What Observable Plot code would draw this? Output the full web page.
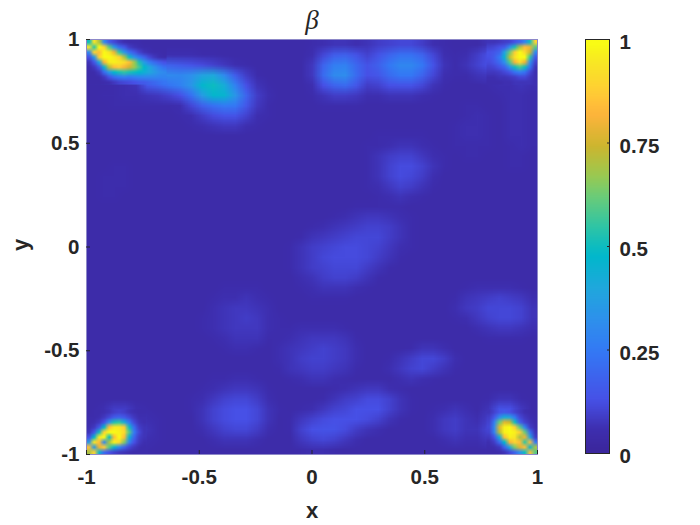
<!DOCTYPE html>
<html>
<head>
<meta charset="utf-8">
<script src="https://cdn.jsdelivr.net/npm/d3@7"></script>
<script src="https://cdn.jsdelivr.net/npm/@observablehq/plot@0.6"></script>
<style>
html,body{margin:0;padding:0;background:#fff}
#wrap{position:relative;width:700px;height:525px;overflow:hidden}
#wrap>div{position:absolute;top:0}
svg{display:block;background:transparent}
</style>
</head>
<body>
<div id="wrap"><div id="main" style="left:0"></div><div id="bar" style="left:575px"></div></div>
<script>
const xTicks = [-1, -0.5, 0, 0.5, 1];
const yTicks = [-1, -0.5, 0, 0.5, 1];
const barTicks = [0, 0.25, 0.5, 0.75, 1];
const titleText = "β";
const xLabel = "x";
const yLabel = "y";
const colorStops = [0, 0.05, 0.12, 0.24, 0.32, 0.4, 0.48, 0.55, 0.63, 0.68, 0.75, 0.83, 0.885, 0.965, 1];
const colorValues = ["#3b279e","#3e2fb0","#4750e6","#3478f5","#2e90ec","#1fa8dc","#00b8cb","#2fc5a5","#6fcc75","#9ec94e","#cdb52f","#ffb43c","#ffce35","#f7ea22","#f9fb15"];
const barLevels = [1,.975,.95,.925,.9,.875,.85,.825,.8,.775,.75,.725,.7,.675,.65,.625,.6,.575,.55,.525,.5,.475,.45,.425,.4,.375,.35,.325,.3,.275,.25,.225,.2,.175,.15,.125,.1,.075,.05,.025,0];
// beta in hundredths, 41 rows (top to bottom, y = 1 to -1) of 41 columns (x = -1 to 1)
const betaRows = [
[90,75,45,25,15,10,3,3,3,3, 3,3,3,3,3,3,3,3,3,3, 4,5,6,6,5,6,8,9,10,10, 8,5,4,3,3,3,6,10,22,55, 85],
[55,95,100,90,65,35,5,5,5,5, 4,4,3,3,3,3,3,3,3,3, 5,10,16,17,13,9,13,18,22,22, 18,10,5,4,5,8,12,20,55,100, 75],
[30,75,98,92,80,55,17,17,15,13, 11,9,7,5,4,3,3,3,3,3, 7,18,26,27,19,13,17,24,29,29, 24,13,6,4,6,9,12,20,50,75, 25],
[12,30,50,60,55,45,30,30,29,32, 38,40,30,16,8,4,3,3,3,3, 7,20,30,31,20,12,14,20,24,24, 18,10,5,4,4,6,7,10,16,20, 8],
[3,3,4,5,6,14,18,23,27,34, 47,50,42,27,12,6,4,3,3,3, 5,12,18,20,14,8,9,12,13,13, 10,6,4,3,3,3,4,5,5,6, 5],
[3,4,4,5,5,6,7,9,12,22, 36,47,46,34,18,8,5,3,3,3, 4,6,8,8,7,5,5,6,6,6, 5,4,3,3,3,3,3,4,5,5, 4],
[3,3,4,4,4,4,4,4,5,10, 17,22,25,24,14,7,4,3,3,3, 3,4,4,4,4,3,3,3,3,3, 3,3,3,3,4,4,3,3,5,5, 4],
[3,3,3,3,3,3,3,3,4,5, 8,11,13,13,9,5,4,3,3,3, 3,3,3,3,3,3,3,3,3,3, 3,3,3,3,4,5,4,3,5,5, 4],
[3,3,3,3,3,3,3,3,3,4, 5,6,7,7,5,4,3,3,3,3, 3,3,3,3,3,3,3,3,3,3, 3,3,3,4,5,5,4,3,5,5, 4],
[3,3,3,3,3,3,3,3,3,3, 3,3,3,3,3,3,3,3,3,3, 3,3,3,3,3,3,4,4,4,4, 4,3,3,4,5,5,4,3,5,5, 4],
[3,3,3,3,3,3,3,3,3,3, 3,3,3,3,3,3,3,3,3,3, 3,3,3,3,3,4,4,5,6,6, 5,4,3,4,4,4,4,3,4,5, 4],
[3,3,3,3,3,3,3,3,3,3, 3,3,3,3,3,3,3,3,3,3, 3,3,3,3,3,4,6,8,9,9, 7,5,4,3,4,4,3,3,4,4, 3],
[3,3,4,4,3,3,3,3,3,3, 3,3,3,3,3,3,3,3,3,3, 3,3,3,3,3,4,6,9,11,11, 9,6,4,3,3,3,3,3,4,4, 3],
[3,4,4,4,3,3,3,3,3,3, 3,3,3,3,3,3,3,3,3,3, 3,3,3,3,3,4,6,9,11,10, 8,5,3,3,3,3,3,3,3,3, 3],
[3,4,4,4,3,3,3,3,3,3, 3,3,3,3,3,3,3,3,3,3, 3,3,3,3,3,4,5,7,9,8, 6,4,3,3,3,3,3,3,3,3, 3],
[3,4,4,3,3,3,3,3,3,3, 3,3,3,3,3,3,3,3,3,3, 3,3,3,3,3,3,4,5,6,5, 4,3,3,3,3,3,3,3,3,3, 3],
[3,3,3,3,3,3,3,3,3,3, 3,3,3,3,3,3,3,3,3,3, 3,3,3,3,4,4,4,4,4,3, 3,3,3,3,3,3,3,3,3,3, 3],
[3,3,3,3,3,3,3,3,3,3, 3,3,3,3,3,3,3,3,3,3, 3,3,4,5,6,7,7,6,5,4, 3,3,3,3,3,3,3,3,3,3, 3],
[3,3,3,3,3,3,3,3,3,3, 3,3,3,3,3,3,3,3,3,3, 4,5,6,7,8,9,9,8,6,4, 3,3,3,3,3,3,3,3,3,3, 3],
[3,3,3,3,3,3,3,3,3,3, 3,3,3,3,3,3,3,3,3,4, 6,7,8,9,10,10,10,8,6,4, 3,3,3,3,3,3,3,3,3,3, 3],
[3,3,3,3,3,3,3,3,3,3, 3,3,3,3,3,3,3,3,4,6, 8,9,10,11,11,10,9,7,5,4, 3,3,3,3,3,3,3,3,3,3, 3],
[3,3,3,3,3,3,3,3,3,3, 3,3,3,3,3,3,3,3,4,6, 8,10,11,11,11,10,8,6,4,3, 3,3,3,3,3,3,3,3,3,3, 3],
[3,3,3,3,3,3,3,3,3,3, 3,3,3,3,3,3,3,3,4,6, 8,9,10,10,10,8,6,4,3,3, 3,3,3,3,3,3,3,3,3,3, 3],
[3,3,3,3,3,3,3,3,3,3, 3,3,3,3,3,3,3,3,3,5, 6,8,9,9,8,6,4,3,3,3, 3,3,3,3,3,3,3,3,3,3, 3],
[3,3,3,3,3,3,3,3,3,3, 3,3,4,4,4,4,3,3,3,4, 5,6,6,6,5,4,3,3,3,3, 3,3,3,3,4,5,5,5,5,4, 3],
[3,3,3,3,3,3,3,3,3,3, 3,4,5,5,6,5,4,3,3,3, 4,4,4,4,3,3,3,3,3,3, 3,3,3,4,6,7,8,9,8,7, 5],
[3,3,3,3,3,3,3,3,3,3, 3,5,6,7,7,6,5,3,3,3, 3,3,3,3,3,3,3,3,3,3, 3,3,3,5,7,8,10,10,10,9, 6],
[3,3,3,3,3,3,3,3,3,3, 4,5,6,7,8,7,5,4,3,3, 3,3,3,3,3,3,3,3,3,3, 3,3,3,4,5,7,9,10,10,9, 6],
[3,3,3,3,3,3,3,3,3,3, 4,5,6,7,7,7,5,4,4,5, 5,5,5,4,3,3,3,3,3,3, 3,3,3,3,3,5,6,7,7,6, 5],
[3,3,3,3,3,3,3,3,3,3, 3,4,5,6,6,6,4,4,5,6, 7,7,7,6,4,3,3,3,3,3, 3,3,3,3,3,3,4,4,4,4, 3],
[3,3,3,3,3,3,3,3,3,3, 3,3,4,5,5,4,3,5,6,7, 8,9,8,7,5,3,3,3,3,4, 6,6,5,3,3,3,3,3,3,3, 3],
[3,3,3,3,3,3,3,3,3,3, 3,3,3,3,3,3,3,5,6,8, 9,9,8,7,5,3,3,4,6,8, 10,10,8,5,3,3,3,3,3,3, 3],
[3,3,3,3,3,3,3,3,3,3, 3,3,3,3,3,3,3,4,6,7, 8,8,7,6,4,3,3,5,7,9, 10,8,6,4,3,3,3,3,3,3, 3],
[3,3,3,3,3,3,3,3,3,3, 3,4,4,5,5,4,3,3,4,5, 6,6,5,4,3,3,3,3,5,6, 5,4,3,3,3,3,3,3,3,3, 3],
[3,3,3,3,3,3,3,3,3,3, 4,5,6,7,7,6,4,3,3,3, 3,3,4,5,6,7,7,5,4,3, 3,3,3,3,3,3,3,3,3,3, 3],
[3,3,3,3,3,3,3,3,3,4, 5,7,9,10,10,8,5,3,3,3, 3,4,6,8,9,11,11,9,6,4, 3,3,3,3,3,3,4,6,6,4, 3],
[3,5,8,8,5,4,3,3,3,4, 6,9,11,12,12,10,6,4,3,4, 5,7,9,10,12,12,12,9,6,4, 3,4,5,6,5,3,6,13,12,7, 3],
[5,10,30,35,18,5,4,3,3,3, 6,9,11,12,12,10,6,3,4,7, 9,11,12,12,12,11,9,6,4,3, 3,5,7,8,6,5,8,38,38,15, 6],
[10,45,100,85,25,6,4,3,3,3, 5,7,9,10,10,8,5,3,4,9, 12,13,13,11,8,6,5,3,3,3, 3,5,7,8,6,6,10,85,100,55, 12],
[50,100,85,35,15,5,4,3,3,3, 3,5,6,6,6,5,3,3,3,7, 9,10,9,7,5,3,3,3,3,3, 3,3,5,6,5,5,7,35,95,95, 50],
[90,45,20,12,8,4,3,3,3,3, 3,3,3,3,3,3,3,3,3,4, 5,5,4,3,3,3,3,3,3,3, 3,3,3,3,3,3,4,10,25,75, 95]
];

// finer readings of the four corners, same unit, rows top to bottom
const cornerTopLeft = [
[50,95,70,30,15,10,7,5,4,4,4,3,3,3,3,3],
[95,55,100,90,60,35,20,14,8,6,5,4,4,3,3,3],
[30,90,85,100,95,80,55,35,22,15,9,6,5,4,4,3],
[12,35,88,100,100,97,90,70,50,33,24,17,10,7,5,4],
[6,14,40,82,97,98,96,93,85,68,52,36,26,20,16,12],
[4,7,14,45,72,85,88,82,76,68,58,48,40,33,27,22],
[3,4,7,20,35,48,52,55,52,50,48,44,40,36,32,30],
[3,3,4,7,13,20,24,26,24,26,28,29,29,29,28,28],
[3,3,3,4,5,7,9,10,11,12,14,15,17,19,21,23]
];
const cornerTopRight = [
[6,6,7,8,9,12,18,28,50,90],
[9,10,12,15,30,52,70,85,80,60],
[12,14,18,38,62,88,100,92,75,30],
[12,16,24,45,72,94,100,100,55,15],
[11,14,20,32,58,82,92,80,32,9],
[9,10,13,18,32,50,58,50,22,6],
[7,7,8,10,13,22,26,22,10,5],
[5,5,6,6,7,8,10,10,7,5],
[4,4,4,5,5,6,6,6,6,5]
];
const cornerBottomLeft = [
[3,4,4,5,6,8,9,8,6,5,4,4],
[4,4,5,7,10,15,17,14,10,7,5,5],
[4,5,7,12,32,52,55,42,24,10,6,5],
[5,7,14,48,85,96,96,88,50,20,8,6],
[6,14,50,90,100,100,98,92,60,25,10,6],
[12,48,95,100,50,85,100,85,45,18,8,6],
[35,95,85,30,70,98,92,65,28,12,7,5],
[85,35,80,88,60,45,30,18,10,7,5,4],
[70,90,45,20,12,9,7,6,5,4,4,4]
];
const cornerBottomRight = [
[6,9,13,14,12,9,7,5,4,3],
[8,14,30,42,38,24,10,7,5,4],
[9,26,62,78,75,50,17,9,6,4],
[10,30,78,98,100,88,60,28,8,5],
[9,28,72,98,100,98,88,62,22,6],
[7,13,42,85,98,95,70,80,40,8],
[5,8,20,48,82,90,85,55,85,25],
[4,5,7,18,40,65,78,85,45,70],
[3,3,4,6,10,18,32,50,85,60]
];
// extents of the corner readings in data units: [x1, x2, y1, y2]
const boundsTopLeft = [-1, -0.645, 1, 0.783];
const boundsTopRight = [0.774, 1, 1, 0.783];
const boundsBottomLeft = [-1, -0.734, -0.783, -1];
const boundsBottomRight = [0.774, 1, -0.783, -1];

const ink = "#262626";
const sans = "'Liberation Sans', Arial, sans-serif";
const colorScale = {type: "linear", domain: colorStops, range: colorValues, clamp: true};
const fmt = d => String(d);
const field = (rows, [x1, x2, y1, y2]) =>
  Plot.raster(rows.flat().map(v => v / 100), {width: rows[0].length, height: rows.length, x1, x2, y1, y2, fill: d => d});

const main = Plot.plot({
  width: 700, height: 525,
  marginLeft: 86, marginRight: 163, marginTop: 39, marginBottom: 71,
  style: {background: "transparent", fontFamily: sans},
  x: {domain: [-1, 1]},
  y: {domain: [-1, 1]},
  color: colorScale,
  marks: [
    field(betaRows, [-1, 1, 1, -1]),
    field(cornerTopLeft, boundsTopLeft),
    field(cornerTopRight, boundsTopRight),
    field(cornerBottomLeft, boundsBottomLeft),
    field(cornerBottomRight, boundsBottomRight),
    Plot.frame({stroke: "#8d88c8", strokeWidth: 1}),
    Plot.axisX({ticks: xTicks, tickFormat: fmt, tickSize: -4, tickPadding: 19, label: null, fontSize: 20.5, fontWeight: "bold", fill: ink, stroke: ink}),
    Plot.axisY({ticks: yTicks, tickFormat: fmt, tickSize: -4, tickPadding: 11, label: null, fontSize: 20.5, fontWeight: "bold", fill: ink, stroke: ink}),
    Plot.text([titleText], {frameAnchor: "top", dy: -30, text: d => d, fontSize: 27, fontStyle: "italic", fontFamily: "'Liberation Serif', serif", fill: ink}),
    Plot.text([xLabel], {frameAnchor: "bottom", dy: 63, text: d => d, fontSize: 22, fontWeight: "bold", fill: ink}),
    Plot.text([yLabel], {frameAnchor: "left", dx: -66, dy: 4, rotate: -90, text: d => d, fontSize: 22, fontWeight: "bold", fill: ink})
  ]
});
document.getElementById("main").appendChild(main);

const bar = Plot.plot({
  width: 125, height: 525,
  marginLeft: 10, marginRight: 91, marginTop: 39, marginBottom: 72,
  style: {background: "transparent", fontFamily: sans},
  x: {domain: [0, 1], axis: null},
  y: {domain: [0, 1]},
  color: colorScale,
  marks: [
    Plot.raster(barLevels, {width: 1, height: barLevels.length, x1: 0, x2: 1, y1: 1, y2: 0, fill: d => d}),
    Plot.frame({stroke: ink, strokeWidth: 1}),
    Plot.axisY({anchor: "right", ticks: barTicks, tickSize: -3, label: null, fill: null, stroke: ink}),
    Plot.axisY({anchor: "right", ticks: barTicks, tickFormat: fmt, tickSize: 0, tickPadding: 10, dy: 3, label: null, fontSize: 20.5, fontWeight: "bold", fill: ink, textAnchor: "start"})
  ]
});
document.getElementById("bar").appendChild(bar);
</script>
</body>
</html>
